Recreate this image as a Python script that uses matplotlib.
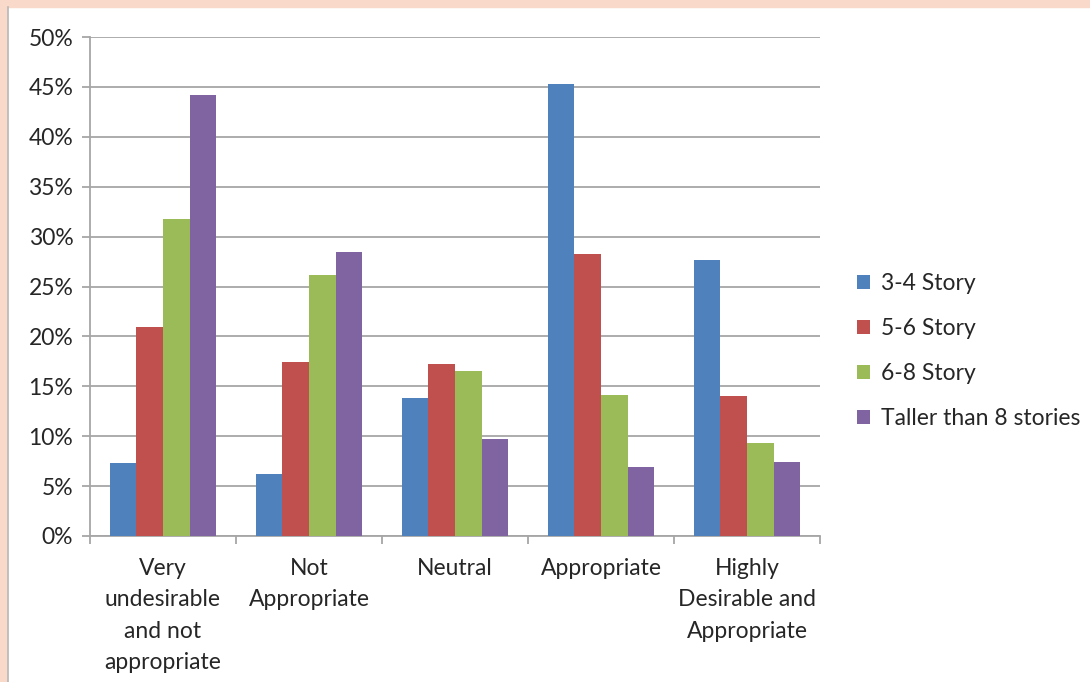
import numpy as np
import matplotlib.pyplot as plt
from matplotlib.patches import Rectangle
from matplotlib.ticker import FuncFormatter, MultipleLocator

# Datos
categorias = ['Very\nundesirable\nand not\nappropriate', 'Not\nAppropriate', 'Neutral',
              'Appropriate', 'Highly\nDesirable and\nAppropriate']
series = ['3-4 Story', '5-6 Story', '6-8 Story', 'Taller than 8 stories']
story_3_4 = [7.3, 6.2, 13.8, 45.3, 27.7]
story_5_6 = [20.9, 17.4, 17.2, 28.3, 14.0]
story_6_8 = [31.8, 26.2, 16.5, 14.1, 9.3]
taller_8 = [44.2, 28.5, 9.7, 6.9, 7.4]
colores = ['#4F81BD', '#C0504D', '#9BBB59', '#8064A2']

plt.rcParams['font.family'] = ['Lato', 'DejaVu Sans']
fs = 16.5

fig = plt.figure(figsize=(10.9, 6.82), dpi=100)
ax = fig.add_axes([90 / 1090, 1 - 536 / 682, 730 / 1090, 499 / 682])

# Borde rosado del marco
fig.patches.append(Rectangle((0, 1 - 7 / 682), 1, 7 / 682, transform=fig.transFigure,
                             color='#F9D9C9', zorder=0))
fig.patches.append(Rectangle((0, 0), 7 / 1090, 1, transform=fig.transFigure,
                             color='#F9D9C9', zorder=0))
fig.lines.append(plt.Line2D([7.5 / 1090, 7.5 / 1090], [0, 1 - 7 / 682], transform=fig.transFigure,
                            color='#B8B8B8', lw=1.2))

x = np.arange(len(categorias))
ancho = 0.183
valores = [story_3_4, story_5_6, story_6_8, taller_8]
for i, (nombre, vals) in enumerate(zip(series, valores)):
    ax.bar(x + (i - 1.5) * ancho, vals, width=ancho, color=colores[i], label=nombre,
           zorder=3)

ax.set_xlim(-0.5, len(categorias) - 0.5)
ax.set_ylim(0, 50)
ax.yaxis.set_major_locator(MultipleLocator(5))
ax.yaxis.set_major_formatter(FuncFormatter(lambda v, p: f'{v:.0f}%'))
ax.grid(axis='y', color='#A6A6A6', lw=1.3, zorder=0)

ax.set_xticks(x)
ax.set_xticklabels(categorias, fontsize=fs, linespacing=1.62, color='#262626')
ax.tick_params(axis='x', length=0, pad=15.5)
ax.set_xticks(np.arange(-0.5, len(categorias)), minor=True)
ax.tick_params(axis='x', which='minor', length=6, color='#A6A6A6', width=1.3)
ax.tick_params(axis='y', length=6, color='#A6A6A6', width=1.3, labelsize=fs,
               labelcolor='#262626', pad=6)

for lado in ['top', 'right']:
    ax.spines[lado].set_visible(False)
for lado in ['left', 'bottom']:
    ax.spines[lado].set_color('#A6A6A6')
    ax.spines[lado].set_linewidth(1.3)

ax.legend(loc='center left', bbox_to_anchor=(1.023, 0.37), frameon=False, fontsize=fs,
          handlelength=0.55, handleheight=0.55, handletextpad=0.5, labelspacing=1.05,
          labelcolor='#262626')

plt.savefig('out.png', dpi=100, facecolor='white')
